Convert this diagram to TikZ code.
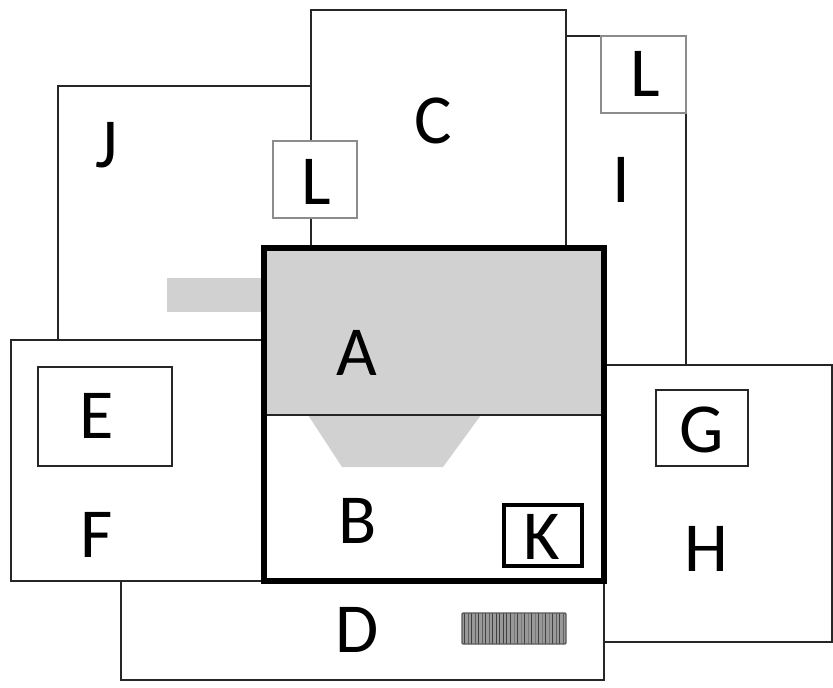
\documentclass[tikz,border=0pt]{standalone}
\usepackage{fontspec}
\setmainfont{Carlito}
\usetikzlibrary{positioning,patterns}

\begin{document}
\begin{tikzpicture}[x=0.03cm, y=-0.03cm,
  plain_box/.style={draw=black!85, fill=white, line width=1.1pt},
  light_box/.style={draw=black!45, fill=white, line width=0.9pt},
  thick_box/.style={draw=black, line width=4.4pt},
  dots_fill/.style={fill=black!18, draw=none},
  letter/.style={font=\fontsize{60}{60}\selectfont, inner sep=0pt}]
	\useasboundingbox (0,0) rectangle (833,687);
	
	% outer boxes
	\draw[plain_box] (58,86) rectangle (311,340);
	\draw[plain_box] (311,10) rectangle (566,248);
	\draw[plain_box] (566,36) rectangle (686,365);
	\draw[light_box] (601,36) rectangle (686,113);
	\draw[light_box] (273,141) rectangle (357,218);
	\fill[dots_fill] (167,278) rectangle (264,312);
	\draw[plain_box] (11,340) rectangle (264,581);
	\draw[plain_box] (38,367) rectangle (172,466);
	\draw[plain_box] (604,365) rectangle (832,642);
	\draw[plain_box] (656,390) rectangle (748,466);
	\draw[plain_box] (121,581) rectangle (604,680);
	\draw[draw=black!65, line width=1.2pt, rounded corners=1pt,
		preaction={fill=black!40}, pattern=vertical lines, pattern color=black!75]
		(462,613) rectangle (566,644);
	
	% centre block
	\fill[dots_fill] (264,248) rectangle (604,415);
	\fill[dots_fill] (308,415) -- (481,415) -- (443,467) -- (342,467) -- cycle;
	\draw[black!85, line width=1.2pt] (264,415) -- (604,415);
	\draw[thick_box] (264,248) rectangle (604,581);
	\draw[draw=black, line width=3.4pt] (504,505) rectangle (582,566);
	
	% labels
	\node[letter] (J) at (107,145) {J};
	\node[letter] (C) at (433,121) {C};
	\node[letter] (L1) at (316,182) {L};
	\node[letter] (L2) at (645,74) {L};
	\node[letter] (I) at (621,180) {I};
	\node[letter] (A) at (357,353) {A};
	\node[letter] (E) at (97,416) {E};
	\node[letter] (G) at (702,430) {G};
	\node[letter] (F) at (97,535) {F};
	\node[letter] (B) at (358,521) {B};
	\node[letter] (K) at (542,537) {K};
	\node[letter] (H) at (706,549) {H};
	\node[letter] (D) at (357,630) {D};
\end{tikzpicture}
\end{document}
